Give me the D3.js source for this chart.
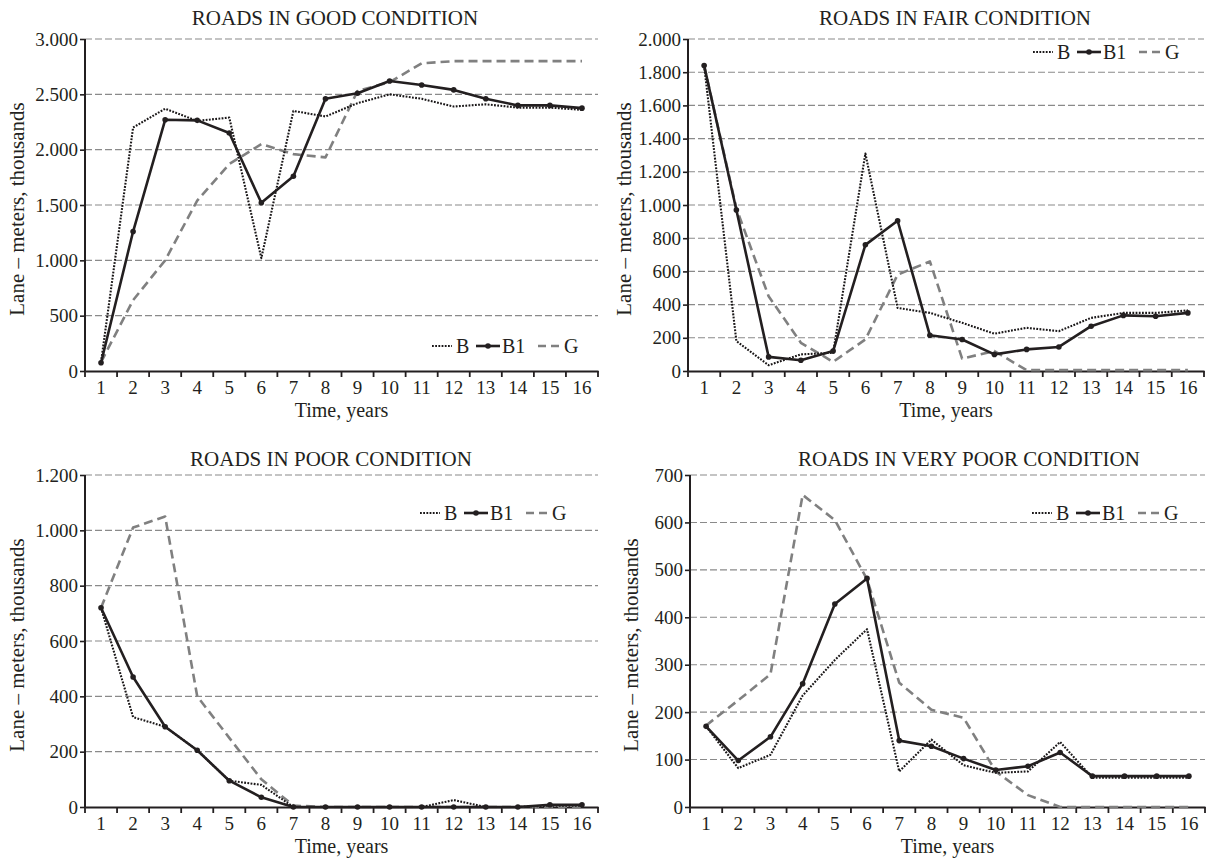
<!DOCTYPE html>
<html><head><meta charset="utf-8">
<script src="https://cdn.jsdelivr.net/npm/d3@7"></script>
<style>
body{margin:0;background:#fff}
svg{display:block}
text{font-family:"Liberation Serif","DejaVu Serif",serif;fill:#231f20}
</style>
</head><body><svg id="c" width="1209" height="859"></svg>
<script>
const years = d3.range(1, 17);
const seriesNames = ["B", "B1", "G"];
const titles = ["ROADS IN GOOD CONDITION", "ROADS IN FAIR CONDITION", "ROADS IN POOR CONDITION", "ROADS IN VERY POOR CONDITION"];
const yMaxes = [3000, 2000, 1200, 700];
const ySteps = [500, 200, 200, 100];

const goodB  = [80, 2200, 2370, 2260, 2290, 1020, 2350, 2300, 2420, 2500, 2460, 2390, 2410, 2380, 2380, 2360];
const goodB1 = [75, 1260, 2270, 2265, 2150, 1520, 1760, 2460, 2510, 2620, 2585, 2540, 2460, 2400, 2400, 2375];
const goodG  = [80, 640, 1000, 1540, 1870, 2050, 1960, 1930, 2530, 2610, 2780, 2800, 2800, 2800, 2800, 2800];

const fairB  = [1840, 180, 35, 100, 110, 1310, 380, 350, 290, 225, 260, 240, 320, 350, 350, 365];
const fairB1 = [1840, 970, 85, 65, 120, 760, 905, 215, 190, 100, 130, 145, 270, 335, 330, 350];
const fairG  = [1840, 980, 450, 170, 55, 190, 580, 660, 75, 120, 5, 5, 5, 5, 5, 5];

const poorB  = [720, 325, 290, 205, 95, 80, 0, 0, 0, 0, 0, 25, 0, 0, 5, 5];
const poorB1 = [720, 470, 290, 205, 95, 35, 0, 0, 0, 0, 0, 0, 0, 0, 8, 8];
const poorG  = [720, 1010, 1050, 400, 250, 100, 5, 0, 0, 0, 0, 0, 0, 0, 0, 0];

const vpoorB  = [170, 82, 110, 235, 310, 375, 75, 142, 88, 72, 75, 137, 62, 62, 62, 62];
const vpoorB1 = [170, 98, 148, 260, 428, 482, 140, 128, 102, 78, 86, 115, 65, 65, 65, 65];
const vpoorG  = [172, 225, 280, 658, 605, 480, 262, 205, 188, 75, 25, 0, 0, 0, 0, 0];

const panelData = [
  [goodB, goodB1, goodG],
  [fairB, fairB1, fairG],
  [poorB, poorB1, poorG],
  [vpoorB, vpoorB1, vpoorG]
];

// layout
const geo = [
  {x0: 85, x1: 598, yT: 39, yB: 371, lx: 432, ly: 346, tx: 335, ty: 25, yl: 61},
  {x0: 688, x1: 1204, yT: 39, yB: 371, lx: 1033, ly: 52, tx: 955, ty: 25, yl: 57},
  {x0: 85, x1: 598, yT: 475, yB: 807, lx: 420, ly: 513, tx: 331, ty: 466, yl: 61},
  {x0: 690, x1: 1205, yT: 475, yB: 807, lx: 1032, ly: 513, tx: 969, ty: 466, yl: 52}
];

const styles = [
  {stroke: "#1a1718", width: 2.1, dash: "1.8,1.4", marker: false},
  {stroke: "#231f20", width: 2.6, dash: null, marker: true},
  {stroke: "#808080", width: 2.6, dash: "9,5", marker: false}
];

const loc = d3.formatLocale({decimal: ",", thousands: ".", grouping: [3], currency: ["", ""]});
const fmt = loc.format(",d");
const svg = d3.select("#c");
const FS = 19;

panelData.forEach((series, pi) => {
  const g = geo[pi];
  const x = d3.scaleBand().domain(years).range([g.x0, g.x1]);
  const y = d3.scaleLinear().domain([0, yMaxes[pi]]).range([g.yB, g.yT]);
  const p = svg.append("g");
  const ticks = d3.range(0, yMaxes[pi] + 1, ySteps[pi]);

  // gridlines
  p.selectAll(".grid").data(ticks.filter(t => t > 0)).enter().append("line")
    .attr("x1", g.x0).attr("x2", g.x1)
    .attr("y1", d => y(d)).attr("y2", d => y(d))
    .attr("stroke", "#8a8a8a").attr("stroke-width", 1.1).attr("stroke-dasharray", "7,3");

  // y axis
  const ya = p.append("g").attr("transform", `translate(${g.x0},0)`)
    .call(d3.axisLeft(y).tickValues(ticks).tickFormat(fmt).tickSize(5).tickPadding(2));
  ya.select(".domain").attr("stroke", "#231f20").attr("stroke-width", 2).attr("d", `M0,${g.yT}V${g.yB}`);
  ya.selectAll(".tick line").attr("stroke", "#231f20").attr("stroke-width", 1.6);
  ya.selectAll(".tick text").attr("font-size", FS).attr("font-family", "Liberation Serif").attr("fill", "#231f20");

  // x axis
  const xa = p.append("g").attr("transform", `translate(0,${g.yB})`)
    .call(d3.axisBottom(x).tickSize(0).tickPadding(10));
  xa.select(".domain").attr("stroke", "#231f20").attr("stroke-width", 2);
  xa.selectAll(".tick text").attr("font-size", FS).attr("font-family", "Liberation Serif").attr("fill", "#231f20");
  const edges = years.map(d => x(d)).concat([g.x1]);
  xa.selectAll(".edge").data(edges).enter().append("line")
    .attr("x1", d => d).attr("x2", d => d).attr("y1", 0).attr("y2", 6)
    .attr("stroke", "#231f20").attr("stroke-width", 1.8);

  // axis titles
  p.append("text").attr("x", (g.x0 + g.x1) / 2).attr("y", g.yB + 46)
    .attr("text-anchor", "middle").attr("font-size", 20).text("Time, years");
  p.append("text").attr("transform", `translate(${g.x0 - g.yl},${(g.yT + g.yB) / 2 + 4}) rotate(-90)`)
    .attr("text-anchor", "middle").attr("font-size", 21).text("Lane – meters, thousands");

  // title
  p.append("text").attr("x", g.tx).attr("y", g.ty).attr("text-anchor", "middle")
    .attr("font-size", 21).text(titles[pi]);

  // lines
  const line = d3.line().x((d, i) => x(years[i]) + x.bandwidth() / 2).y(d => y(d));
  const order = [2, 0, 1];
  order.forEach(si => {
    const s = styles[si];
    p.append("path").datum(series[si]).attr("d", line).attr("fill", "none")
      .attr("stroke", s.stroke).attr("stroke-width", s.width)
      .attr("stroke-dasharray", s.dash).attr("stroke-linejoin", "round");
    if (s.marker) {
      p.selectAll(".m" + si).data(series[si]).enter().append("circle")
        .attr("cx", (d, i) => x(years[i]) + x.bandwidth() / 2).attr("cy", d => y(d))
        .attr("r", 2.8).attr("fill", s.stroke);
    }
  });

  // legend
  const lg = p.append("g").attr("transform", `translate(${g.lx},${g.ly})`);
  const items = [
    {x1: 0, x2: 20, tx: 24},
    {x1: 44, x2: 68, tx: 70},
    {x1: 106, x2: 127, tx: 132}
  ];
  items.forEach((it, si) => {
    const s = styles[si];
    lg.append("line").attr("x1", it.x1).attr("x2", it.x2).attr("y1", 0).attr("y2", 0)
      .attr("stroke", s.stroke).attr("stroke-width", s.width).attr("stroke-dasharray", si === 2 ? "8,5" : s.dash);
    if (s.marker) lg.append("circle").attr("cx", (it.x1 + it.x2) / 2).attr("cy", 0).attr("r", 2.8).attr("fill", s.stroke);
    lg.append("text").attr("x", it.tx).attr("y", 7).attr("font-size", 20).text(seriesNames[si]);
  });
});
</script>
</body></html>
